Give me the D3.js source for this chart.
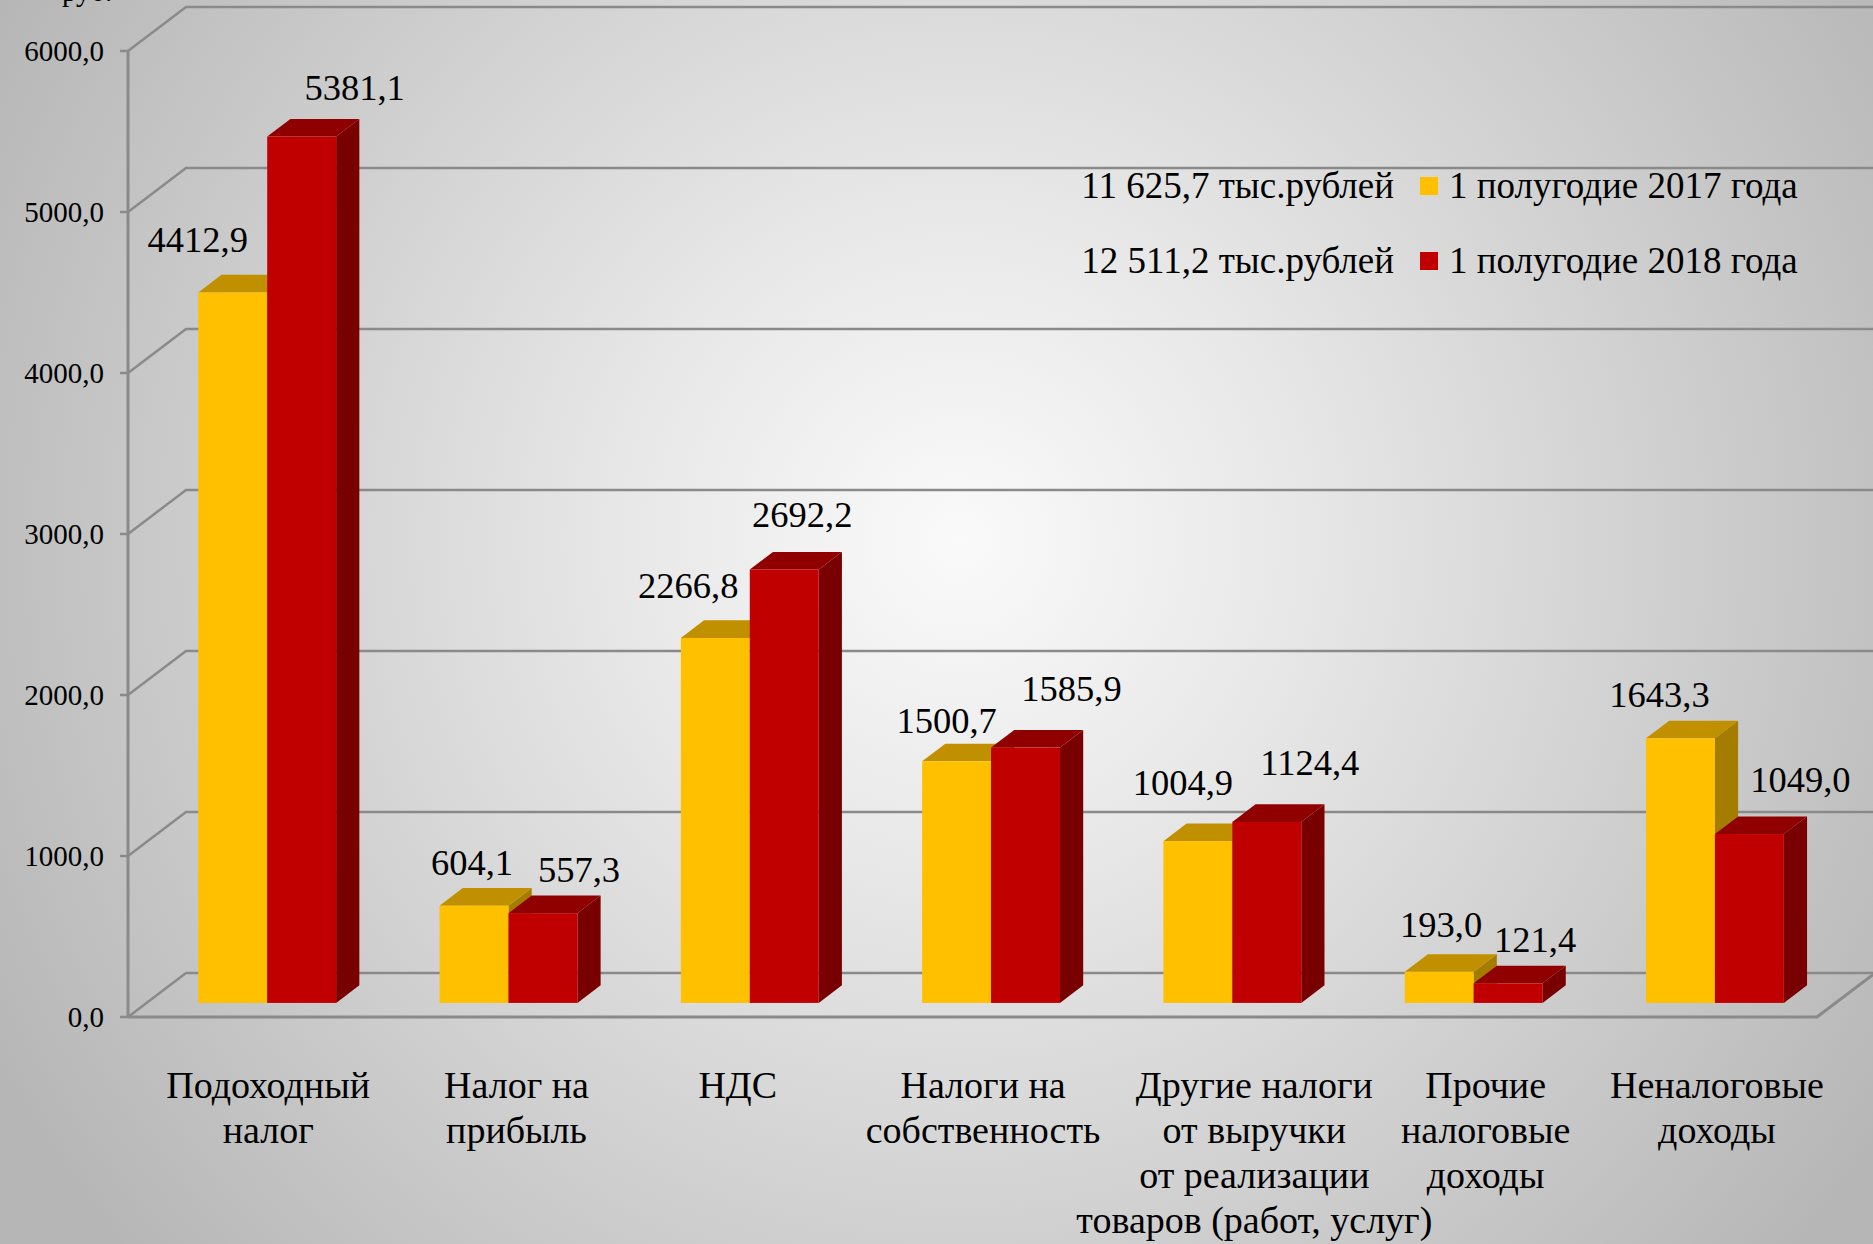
<!DOCTYPE html>
<html>
<head>
<meta charset="utf-8">
<script src="https://cdn.jsdelivr.net/npm/d3@7.9.0/dist/d3.min.js"></script>
<style>
  html, body { margin: 0; padding: 0; overflow: hidden; }
  svg text { font-family: "Liberation Serif", "Times New Roman", serif; fill: #000; }
</style>
</head>
<body>
<svg id="chart" width="1873" height="1244"></svg>
<script>
// Chart data (thousand rubles)
const categories = [
  ["Подоходный", "налог"],
  ["Налог на", "прибыль"],
  ["НДС"],
  ["Налоги на", "собственность"],
  ["Другие налоги", "от выручки", "от реализации", "товаров (работ, услуг)"],
  ["Прочие", "налоговые", "доходы"],
  ["Неналоговые", "доходы"]
];
const series = ["1 полугодие 2017 года", "1 полугодие 2018 года"];
const totals = ["11 625,7 тыс.рублей", "12 511,2 тыс.рублей"];
const values2017 = [4412.9, 604.1, 2266.8, 1500.7, 1004.9, 193.0, 1643.3];
const values2018 = [5381.1, 557.3, 2692.2, 1585.9, 1124.4, 121.4, 1049.0];
const yTicks = [0, 1000, 2000, 3000, 4000, 5000, 6000];

// hand placement of the labels in the original (px nudges)
const labelNudge2017 = [[-19, 2], [14, 11], [-11, 2], [6, 14], [1, -4], [18, 7], [-5, 11]];
const labelNudge2018 = [[15, 5], [-2, 11], [-20, 0], [8, -5], [5, -5], [-11, 11], [13, 0]];
const catNudge = [1, 8, -12, -8, 22, 12, 2];

// colours: front, top, side
const colors = [
  { front: "#FFC000", top: "#C09000", side: "#A47C00" },
  { front: "#C00000", top: "#900000", side: "#780000" }
];

const W = 1873, H = 1244;
const svg = d3.select("#chart");

// background radial gradient
const defs = svg.append("defs");
const grad = defs.append("radialGradient")
  .attr("id", "bg")
  .attr("gradientUnits", "userSpaceOnUse")
  .attr("cx", 960).attr("cy", 540).attr("r", 1100);
grad.append("stop").attr("offset", 0).attr("stop-color", "#fafafa");
grad.append("stop").attr("offset", 0.3).attr("stop-color", "#e8e8e8");
grad.append("stop").attr("offset", 1).attr("stop-color", "#b6b6b6");
svg.append("rect").attr("width", W).attr("height", H).attr("fill", "url(#bg)");

// 3D geometry: front plane + depth vector
const x0 = 128, x1 = 1817;
const depth = { dx: 58, dy: -44 };
const barFront = 0.32, barDepth = 0.4;

const x = d3.scaleBand().domain(d3.range(categories.length)).range([x0, x1]);
const xs = d3.scaleBand().domain([0, 1]).range([0, x.bandwidth()]).paddingOuter(0.75);
const y = d3.scaleLinear().domain([0, 6000]).range([1017, 51]);

// partially visible unit caption at the top
svg.append("text").attr("x", 62).attr("y", 1).attr("font-size", 29).text("руб.");

// walls / grid
const grid = svg.append("g").attr("stroke", "#8a8a8a").attr("stroke-width", 2.5).attr("fill", "none");
yTicks.forEach(v => {
  const yy = y(v);
  grid.append("path").attr("d", `M${x0},${yy}L${x0 + depth.dx},${yy + depth.dy}L${W + 10},${yy + depth.dy}`);
  grid.append("line").attr("x1", x0 - 8).attr("x2", x0).attr("y1", yy).attr("y2", yy);
});
grid.append("line").attr("x1", x0).attr("x2", x0).attr("y1", y(6000)).attr("y2", y(0)).attr("stroke-width", 3);
grid.append("path")
  .attr("d", `M${x0},${y(0)}L${x1},${y(0)}L${x1 + depth.dx},${y(0) + depth.dy}`)
  .attr("stroke-width", 3);

// y-axis labels
const fmt = v => d3.format(".1f")(v).replace(".", ",");
svg.append("g").selectAll("text").data(yTicks).join("text")
  .attr("x", x0 - 24).attr("y", d => y(d)).attr("dy", "0.35em")
  .attr("text-anchor", "end").attr("font-size", 29)
  .text(fmt);

// bars
const fx = barFront * depth.dx, fy = barFront * depth.dy;
const bx = barDepth * depth.dx, by = barDepth * depth.dy;
const bars = [];
categories.forEach((c, i) => {
  bars.push({ i, s: 0, v: values2017[i], nudge: labelNudge2017[i] });
  bars.push({ i, s: 1, v: values2018[i], nudge: labelNudge2018[i] });
});
const barG = svg.append("g");
bars.forEach(b => {
  const left = x(b.i) + xs(b.s) + fx;
  const right = left + xs.bandwidth();
  const bottom = y(0) + fy;
  const top = bottom - (y(0) - y(b.v));
  const col = colors[b.s];
  const g = barG.append("g");
  g.append("path").attr("fill", col.side)
    .attr("d", `M${right},${top}L${right + bx},${top + by}L${right + bx},${bottom + by}L${right},${bottom}Z`);
  g.append("path").attr("fill", col.top)
    .attr("d", `M${left},${top}L${left + bx},${top + by}L${right + bx},${top + by}L${right},${top}Z`);
  g.append("rect").attr("fill", col.front)
    .attr("x", left).attr("y", top).attr("width", right - left).attr("height", bottom - top);
  b.cx = (left + right) / 2;
  b.top = top;
});

// data labels
const labelDx = [-16, 38];
svg.append("g").selectAll("text").data(bars).join("text")
  .attr("x", d => d.cx + labelDx[d.s] + d.nudge[0])
  .attr("y", d => d.top - 42 + d.nudge[1])
  .attr("text-anchor", "middle").attr("font-size", 36.5)
  .text(d => fmt(d.v));

// category labels
const catG = svg.append("g");
categories.forEach((lines, i) => {
  const cx = x(i) + x.bandwidth() / 2 + fx + catNudge[i];
  const t = catG.append("text").attr("text-anchor", "middle").attr("font-size", 38);
  lines.forEach((ln, k) => {
    t.append("tspan").attr("x", cx).attr("y", 1098 + k * 45).text(ln);
  });
});

// legend
const legend = svg.append("g");
series.forEach((name, s) => {
  const ly = 198 + s * 75;
  legend.append("text").attr("x", 1394).attr("y", ly).attr("text-anchor", "end")
    .attr("font-size", 37).text(totals[s]);
  legend.append("rect").attr("x", 1420).attr("y", ly - 21).attr("width", 18).attr("height", 18)
    .attr("fill", colors[s].front);
  legend.append("text").attr("x", 1449).attr("y", ly).attr("font-size", 37).text(name);
});
</script>
</body>
</html>
